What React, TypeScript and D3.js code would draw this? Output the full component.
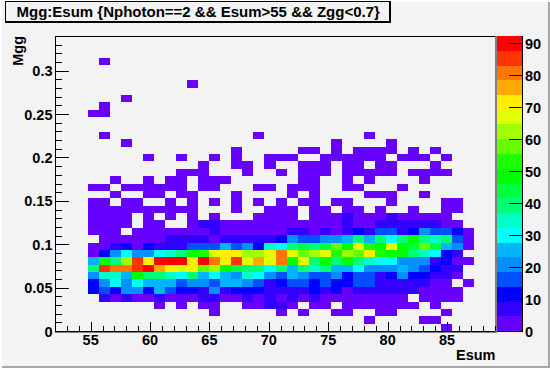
import React, { useEffect, useRef } from "react";
import * as d3 from "d3";

const WIDTH = 550;
const HEIGHT = 368;
const FONT = "'Liberation Sans', Arial, sans-serif";

const titleText = "Mgg:Esum {Nphoton==2 && Esum>55 && Zgg<0.7}";
const xTitle = "Esum";
const yTitle = "Mgg";

const esumDomain = [52, 89.12];
const mggDomain = [0, 0.34];
const zDomain = [0, 92.2];

const esumLabels = [55, 60, 65, 70, 75, 80, 85];
const mggLabels = [0, 0.05, 0.1, 0.15, 0.2, 0.25, 0.3];
const zLabels = [0, 10, 20, 30, 40, 50, 60, 70, 80, 90];

const palette = [
  "#6600ff", "#3300ff", "#0000ff", "#0050ff", "#0090ff",
  "#00b4ff", "#00ffff", "#00ffc8", "#00ff78", "#00ff40",
  "#00ff00", "#1bff00", "#66ff00", "#a0ff00", "#e0ff00",
  "#ffee00", "#ffaa00", "#ff7700", "#ff3300", "#ff0000",
];

// counts per Esum bin, one row per Mgg bin, lowest Mgg first
const mggRows: number[][] = [
  [0,0,0,0,0,0,0,0,0,0, 0,0,0,0,0,0,0,0,0,0, 0,0,0,0,0,0,0,0,0,0, 0,0,0,0,0,2,0,0,0,0],
  [0,0,0,0,0,0,0,0,0,0, 0,0,0,0,0,0,0,0,0,0, 0,0,0,0,0,0,0,0,2,0, 0,0,0,2,2,0,0,0,0,0],
  [0,0,0,0,0,0,0,0,0,0, 0,0,0,0,2,0,0,0,0,0, 2,0,2,0,0,2,2,0,0,2, 2,0,0,0,0,2,0,0,0,0],
  [0,0,0,0,0,0,0,0,0,2, 0,2,0,2,2,0,0,2,2,7, 7,2,0,2,2,0,2,2,2,2, 2,2,2,0,2,0,0,0,0,0],
  [0,0,0,0,7,2,7,2,2,7, 2,2,2,7,7,2,2,7,2,7, 2,7,2,7,2,2,2,2,2,2, 2,2,0,2,2,2,2,0,0,0],
  [0,0,0,11,16,11,21,21,11,25, 16,11,11,7,21,7,11,11,11,7, 7,7,7,11,7,11,2,7,7,7, 7,7,7,2,2,2,2,0,0,0],
  [0,0,0,11,21,30,21,30,25,25, 25,16,21,21,16,25,25,21,16,7, 11,16,16,11,16,11,11,16,16,7, 7,7,7,7,2,2,0,2,0,0],
  [0,0,0,21,34,34,25,48,39,39, 34,30,39,25,30,25,21,34,30,21, 16,25,21,16,16,21,11,16,16,7, 11,21,11,11,7,7,2,0,0,0],
  [0,0,0,39,85,80,80,85,90,76, 71,67,71,57,62,48,44,39,39,30, 39,25,39,34,39,25,25,30,21,21, 21,25,21,16,11,7,7,0,0,0],
  [0,0,0,25,48,39,62,85,71,90, 90,90,71,90,80,71,85,67,76,67, 80,48,67,39,48,39,48,39,34,30, 30,21,21,21,7,11,2,2,0,0],
  [0,0,0,2,11,21,30,21,21,30, 34,39,48,53,67,71,71,62,62,67, 80,67,57,62,67,53,62,57,71,53, 48,48,39,34,30,11,7,0,0,0],
  [0,0,0,2,2,7,11,2,11,7, 7,7,16,16,16,25,16,21,11,34, 30,39,44,39,44,57,48,67,53,48, 67,48,44,57,44,25,21,2,0,0],
  [0,0,0,0,2,2,2,2,2,2, 7,7,7,7,2,7,7,7,7,7, 11,21,16,16,21,21,25,39,25,39, 30,39,48,39,34,39,16,2,0,0],
  [0,0,0,2,2,2,0,2,2,2, 2,2,2,2,7,2,2,2,2,2, 2,7,7,2,7,2,7,11,7,16, 16,7,11,21,16,16,11,2,0,0],
  [0,0,0,2,2,2,2,0,2,2, 0,0,2,7,7,2,2,2,2,2, 2,2,2,2,2,2,7,2,2,7, 7,7,7,7,7,2,2,0,0,0],
  [0,0,0,2,2,2,2,0,2,0, 2,0,2,0,2,0,0,0,2,2, 2,2,0,2,2,2,7,2,2,2, 7,2,2,2,2,2,0,0,0,0],
  [0,0,0,2,2,2,2,2,2,2, 2,2,2,0,0,0,2,0,0,2, 2,2,0,2,2,0,2,2,0,2, 0,0,2,0,0,2,2,0,0,0],
  [0,0,0,2,2,0,2,2,0,0, 2,0,2,0,2,0,2,0,2,0, 2,0,2,2,0,2,2,0,0,0, 2,0,0,0,0,2,2,0,0,0],
  [0,0,0,0,0,2,0,0,2,2, 0,2,2,0,0,0,2,0,0,0, 0,2,0,2,0,0,0,0,2,2, 2,0,0,2,0,0,0,0,0,0],
  [0,0,0,2,2,0,2,2,2,2, 2,2,0,2,2,0,0,0,2,2, 0,2,2,2,0,0,2,2,0,0, 0,2,0,0,0,0,0,0,0,0],
  [0,0,0,0,0,2,0,0,2,0, 2,2,0,2,2,2,0,0,0,0, 0,0,2,2,0,0,2,0,2,0, 0,0,0,2,0,0,0,0,0,0],
  [0,0,0,0,0,0,0,0,0,0, 0,2,2,2,0,0,0,2,0,0, 2,0,2,2,2,0,2,2,2,2, 2,0,2,2,2,2,0,0,0,0],
  [0,0,0,0,0,0,0,0,0,0, 0,0,0,2,0,0,2,2,0,2, 0,0,2,2,2,0,2,2,0,2, 2,0,0,0,2,0,0,0,0,0],
  [0,0,0,0,0,0,0,0,2,0, 0,2,0,0,2,0,2,0,0,2, 2,2,0,0,2,2,2,2,2,2, 0,2,2,2,0,2,0,0,0,0],
  [0,0,0,0,0,0,0,0,0,0, 0,0,0,0,0,0,2,0,0,0, 0,0,2,2,0,2,0,2,2,2, 2,0,2,0,2,0,0,0,0,0],
  [0,0,0,0,0,0,2,0,0,0, 0,0,0,0,0,0,0,0,0,0, 0,0,0,0,0,2,0,0,0,0, 2,0,0,0,0,0,0,0,0,0],
  [0,0,0,0,2,0,0,0,0,0, 0,0,0,0,0,0,0,0,2,0, 0,0,0,0,0,0,0,0,2,0, 0,0,0,0,0,0,0,0,0,0],
  [0,0,0,0,0,0,0,0,0,0, 0,0,0,0,0,0,0,0,0,0, 0,0,0,0,0,0,0,0,0,0, 0,0,0,0,0,0,0,0,0,0],
  [0,0,0,0,0,0,0,0,0,0, 0,0,0,0,0,0,0,0,0,0, 0,0,0,0,0,0,0,0,0,0, 0,0,0,0,0,0,0,0,0,0],
  [0,0,0,2,2,0,0,0,0,0, 0,0,0,0,0,0,0,0,0,0, 0,0,0,0,0,0,0,0,0,0, 0,0,0,0,0,0,0,0,0,0],
  [0,0,0,0,2,0,0,0,0,0, 0,0,0,0,0,0,0,0,0,0, 0,0,0,0,0,0,0,0,0,0, 0,0,0,0,0,0,0,0,0,0],
  [0,0,0,0,0,0,2,0,0,0, 0,0,0,0,0,0,0,0,0,0, 0,0,0,0,0,0,0,0,0,0, 0,0,0,0,0,0,0,0,0,0],
  [0,0,0,0,0,0,0,0,0,0, 0,0,0,0,0,0,0,0,0,0, 0,0,0,0,0,0,0,0,0,0, 0,0,0,0,0,0,0,0,0,0],
  [0,0,0,0,0,0,0,0,0,0, 0,0,2,0,0,0,0,0,0,0, 0,0,0,0,0,0,0,0,0,0, 0,0,0,0,0,0,0,0,0,0],
  [0,0,0,0,0,0,0,0,0,0, 0,0,0,0,0,0,0,0,0,0, 0,0,0,0,0,0,0,0,0,0, 0,0,0,0,0,0,0,0,0,0],
  [0,0,0,0,0,0,0,0,0,0, 0,0,0,0,0,0,0,0,0,0, 0,0,0,0,0,0,0,0,0,0, 0,0,0,0,0,0,0,0,0,0],
  [0,0,0,0,2,0,0,0,0,0, 0,0,0,0,0,0,0,0,0,0, 0,0,0,0,0,0,0,0,0,0, 0,0,0,0,0,0,0,0,0,0],
];

const BINS = 40;
const plot = { left: 55, right: 496, top: 36, bottom: 331 };
const bar = { left: 497, right: 522 };

const App = () => {
  const svgRef = useRef<SVGSVGElement>(null);

  useEffect(() => {
    const svg = d3.select(svgRef.current);
    svg.selectAll("*").remove();

    const x = d3.scaleLinear().domain(esumDomain).range([plot.left, plot.right]);
    const y = d3.scaleLinear().domain(mggDomain).range([plot.bottom, plot.top]);
    const z = d3.scaleLinear().domain(zDomain).range([plot.bottom, plot.top]);
    const colour = d3.scaleQuantize<string>().domain(zDomain).range(palette);

    const binW = (esumDomain[1] - esumDomain[0]) / BINS;
    const binH = (mggDomain[1] - mggDomain[0]) / BINS;

    // canvas with its bevel
    svg.append("rect").attr("width", WIDTH).attr("height", HEIGHT).attr("fill", "#ffffff");
    svg.append("rect").attr("x", 2).attr("y", 2).attr("width", WIDTH - 2).attr("height", HEIGHT - 2).attr("fill", "#a6a6a6");
    svg.append("rect").attr("x", 2).attr("y", 2).attr("width", WIDTH - 4).attr("height", HEIGHT - 4).attr("fill", "#f3f3f3");

    // cells
    const cells = svg.append("g").attr("shape-rendering", "crispEdges");
    mggRows.forEach((row, r) => {
      row.forEach((count, c) => {
        if (!count) return;
        const x0 = Math.round(x(esumDomain[0] + c * binW));
        const x1 = Math.round(x(esumDomain[0] + (c + 1) * binW));
        const y0 = Math.round(y(mggDomain[0] + (r + 1) * binH));
        const y1 = Math.round(y(mggDomain[0] + r * binH));
        cells.append("rect")
          .attr("x", x0)
          .attr("y", y0)
          .attr("width", x1 - x0)
          .attr("height", y1 - y0)
          .attr("fill", colour(count));
      });
    });

    // frame
    const lines = svg.append("g").attr("shape-rendering", "crispEdges");
    lines.append("rect").attr("x", plot.right - 1).attr("y", plot.top).attr("width", 2).attr("height", plot.bottom - plot.top + 2).attr("fill", "#808080");
    lines.append("rect").attr("x", plot.left).attr("y", plot.bottom + 1).attr("width", plot.right - plot.left).attr("height", 1).attr("fill", "#808080");
    lines.append("rect").attr("x", plot.left).attr("y", plot.top).attr("width", plot.right - plot.left - 1).attr("height", 1).attr("fill", "#000");
    lines.append("rect").attr("x", plot.left).attr("y", plot.top).attr("width", 1).attr("height", plot.bottom - plot.top + 1).attr("fill", "#000");
    lines.append("rect").attr("x", plot.left).attr("y", plot.bottom).attr("width", plot.right - plot.left - 1).attr("height", 1).attr("fill", "#000");

    // palette
    const zStep = (zDomain[1] - zDomain[0]) / palette.length;
    const barG = svg.append("g").attr("shape-rendering", "crispEdges");
    palette.forEach((fill, i) => {
      const y0 = Math.round(z(zStep * (i + 1)));
      const y1 = Math.round(z(zStep * i));
      barG.append("rect")
        .attr("x", bar.left)
        .attr("y", y0)
        .attr("width", bar.right - bar.left)
        .attr("height", y1 - y0)
        .attr("fill", fill);
    });
    barG.append("rect").attr("x", bar.right).attr("y", plot.top).attr("width", 1).attr("height", plot.bottom - plot.top + 1).attr("fill", "#000");
    barG.append("rect").attr("x", bar.left).attr("y", plot.bottom).attr("width", bar.right - bar.left + 1).attr("height", 1).attr("fill", "#000");

    const styleLabels = (sel: any) => {
      sel.attr("font-family", FONT).attr("font-weight", "bold").attr("font-size", 14.5).attr("fill", "#000");
    };

    // x axis: ticks point up into the plot
    const xMinor = svg.append("g").attr("transform", `translate(0,${plot.bottom})`)
      .call(d3.axisTop(x).ticks(37).tickSize(5).tickFormat(() => ""));
    const xMajor = svg.append("g").attr("transform", `translate(0,${plot.bottom})`)
      .call(d3.axisTop(x).tickValues(esumLabels).tickSize(9).tickFormat(() => ""));

    // y axis: ticks point right into the plot
    const yMinor = svg.append("g").attr("transform", `translate(${plot.left},0)`)
      .call(d3.axisRight(y).ticks(34).tickSize(7).tickFormat(() => ""));
    const yMajor = svg.append("g").attr("transform", `translate(${plot.left},0)`)
      .call(d3.axisRight(y).tickValues(mggLabels).tickSize(14).tickFormat(() => ""));

    // palette axis: ticks point left into the bar
    const zAxis = svg.append("g").attr("transform", `translate(${bar.right + 1},0)`)
      .call(d3.axisLeft(z).tickValues(zLabels).tickSize(14).tickFormat(() => ""));

    [xMinor, xMajor, yMinor, yMajor, zAxis].forEach((g) => {
      g.select(".domain").remove();
      g.selectAll("line").attr("stroke", "#000").attr("shape-rendering", "crispEdges");
      g.selectAll("text").remove();
    });

    svg.append("g").selectAll("text").data(esumLabels).join("text")
      .attr("x", (d) => x(d))
      .attr("y", 345)
      .attr("text-anchor", "middle")
      .text((d) => d)
      .call(styleLabels);

    svg.append("g").selectAll("text").data(mggLabels).join("text")
      .attr("x", 52.5)
      .attr("y", (d) => y(d) + 5.5)
      .attr("text-anchor", "end")
      .text((d) => d)
      .call(styleLabels);

    svg.append("g").selectAll("text").data(zLabels).join("text")
      .attr("x", 525)
      .attr("y", (d) => z(d) + 5.5)
      .text((d) => d)
      .call(styleLabels);

    svg.append("text")
      .attr("x", 495.5)
      .attr("y", 360)
      .attr("text-anchor", "end")
      .text(xTitle)
      .call(styleLabels);

    svg.append("text")
      .attr("transform", "translate(23,36) rotate(-90)")
      .attr("text-anchor", "end")
      .text(yTitle)
      .call(styleLabels);

    // title box, drop shadow on the right and bottom
    const box = svg.append("g").attr("shape-rendering", "crispEdges");
    box.append("rect").attr("x", 5).attr("y", 1).attr("width", 386).attr("height", 22).attr("fill", "#000");
    box.append("rect").attr("x", 6).attr("y", 2).attr("width", 383).attr("height", 19).attr("fill", "#f3f3f3");

    svg.append("text")
      .attr("x", 16.5)
      .attr("y", 16.5)
      .attr("font-family", FONT)
      .attr("font-weight", "bold")
      .attr("font-size", 15)
      .attr("fill", "#000")
      .text(titleText);
  }, []);

  return (
    <svg
      ref={svgRef}
      width={WIDTH}
      height={HEIGHT}
      style={{ position: "absolute", left: 0, top: 0 }}
    ></svg>
  );
};

export default App;
